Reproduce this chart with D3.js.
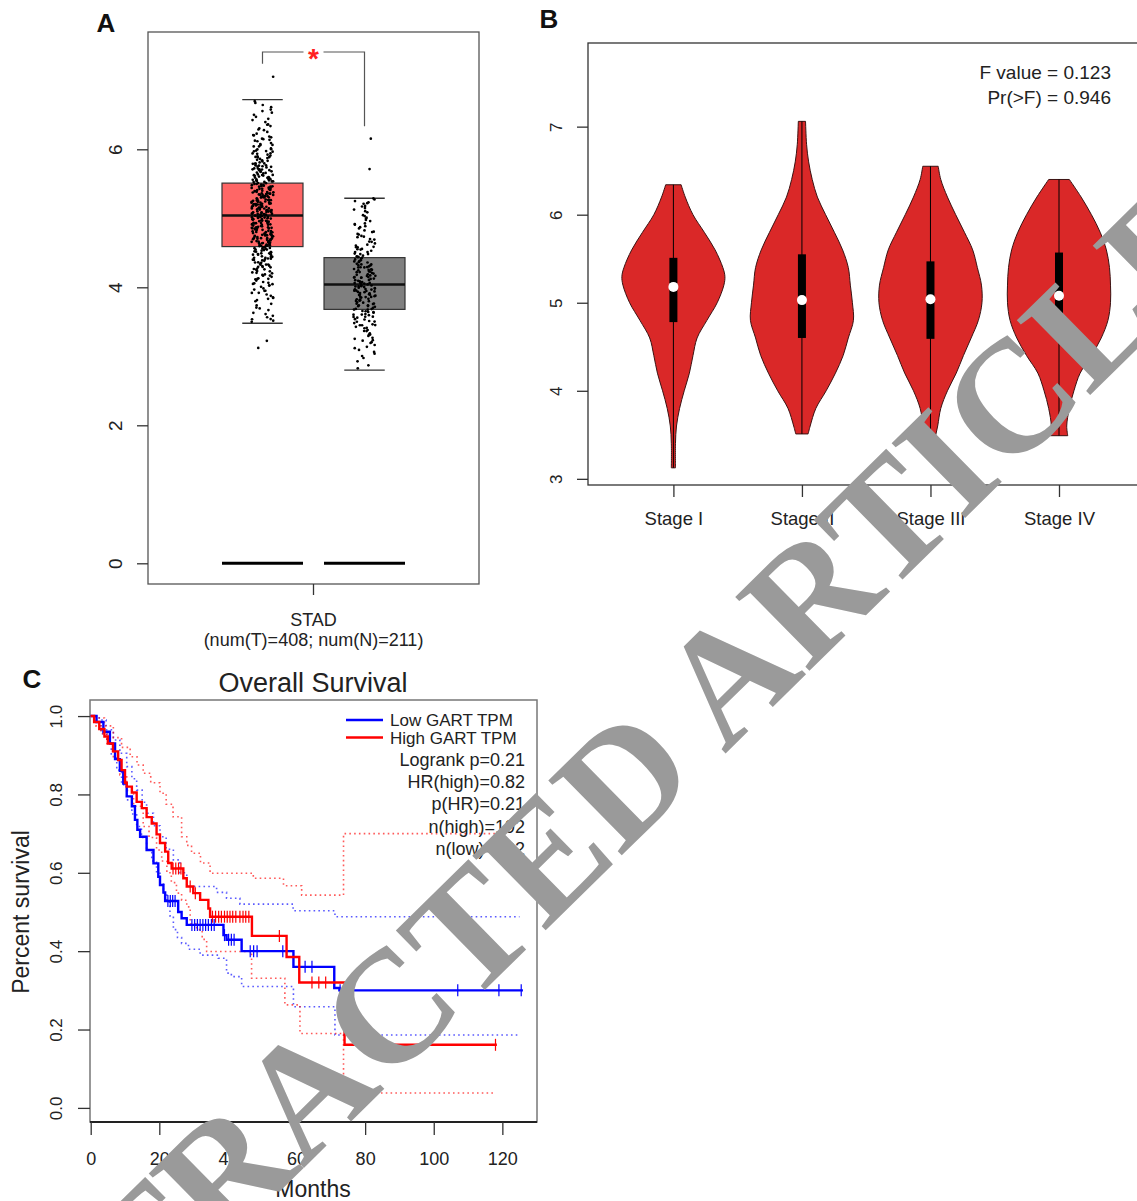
<!DOCTYPE html>
<html>
<head>
<meta charset="utf-8">
<script src="https://cdn.jsdelivr.net/npm/d3@7"></script>
<style>
  body { margin: 0; background: #fff; }
  svg { display: block; font-family: "Liberation Sans", Arial, Helvetica, sans-serif; }
</style>
</head>
<body>
<svg id="fig" width="1137" height="1201"></svg>
<script>
// ---------- A: STAD tumor vs normal ----------
const groupsA = ['Tumor', 'Normal'];
// [lower whisker, q1, median, q3, upper whisker]
const boxStatsA = [
  [3.48, 4.59, 5.04, 5.51, 6.72],
  [2.80, 3.68, 4.04, 4.43, 5.29]
];
// jittered points, counted per value bin off the picture
const tumorEdges = [3.48, 3.6, 3.8, 4.0, 4.2, 4.4, 4.6, 4.8, 5.0, 5.2, 5.4, 5.6, 5.8, 6.0, 6.2, 6.4, 6.6, 6.72];
const tumorCounts = [6, 8, 12, 18, 24, 34, 40, 44, 48, 44, 38, 30, 22, 16, 10, 7, 4];
const tumorOutliers = [7.05, 3.22, 3.12];
const normalEdges = [2.8, 3.0, 3.2, 3.4, 3.6, 3.8, 4.0, 4.2, 4.4, 4.6, 4.8, 5.0, 5.2, 5.29];
const normalCounts = [4, 8, 12, 18, 24, 30, 30, 26, 18, 13, 11, 9, 6];
const normalOutliers = [6.16, 5.71];
const zeroRowA = [0, 0];
const ticksA = [0, 2, 4, 6];

// ---------- B: stage violins ----------
const stages = ['Stage I', 'Stage II', 'Stage III', 'Stage IV'];
// [min, q1, median, q3, max]
const stageStats = [
  [3.125, 4.78, 5.18, 5.51, 6.34],
  [3.51, 4.60, 5.03, 5.55, 7.06],
  [3.22, 4.59, 5.04, 5.47, 6.55],
  [3.49, 4.65, 5.08, 5.57, 6.40]
];
const levelsI = [3.125, 3.4, 3.6, 3.8, 4.0, 4.2, 4.4, 4.6, 4.8, 5.0, 5.2, 5.3, 5.4, 5.6, 5.8, 6.0, 6.2, 6.34];
const densI = [0.04, 0.04, 0.06, 0.12, 0.21, 0.31, 0.38, 0.46, 0.65, 0.85, 0.98, 1, 0.96, 0.81, 0.6, 0.38, 0.23, 0.15];
const levelsII = [3.51, 3.6, 3.8, 4.0, 4.2, 4.4, 4.6, 4.8, 5.0, 5.2, 5.4, 5.6, 5.8, 6.0, 6.2, 6.4, 6.6, 6.8, 7.06];
const densII = [0.12, 0.16, 0.27, 0.47, 0.65, 0.8, 0.9, 1, 0.98, 0.94, 0.9, 0.79, 0.63, 0.46, 0.3, 0.2, 0.13, 0.09, 0.07];
const levelsIII = [3.22, 3.4, 3.6, 3.8, 4.0, 4.2, 4.4, 4.6, 4.8, 5.0, 5.2, 5.4, 5.6, 5.8, 6.0, 6.2, 6.4, 6.55];
const densIII = [0.04, 0.07, 0.14, 0.2, 0.33, 0.5, 0.64, 0.79, 0.93, 1, 0.99, 0.91, 0.82, 0.66, 0.49, 0.33, 0.2, 0.15];
const levelsIV = [3.49, 3.6, 3.8, 4.0, 4.2, 4.4, 4.6, 4.8, 5.0, 5.2, 5.4, 5.6, 5.8, 6.0, 6.2, 6.4];
const densIV = [0.17, 0.15, 0.2, 0.29, 0.41, 0.63, 0.82, 0.95, 1, 1, 0.98, 0.92, 0.8, 0.63, 0.43, 0.2];
const ticksB = [3, 4, 5, 6, 7];
const anovaText = ['F value = 0.123', 'Pr(>F) = 0.946'];

// ---------- C: overall survival ----------
// [month, survival after the drop]
const highSteps = [[1, 0.985], [2.5, 0.967], [4, 0.948], [5, 0.93], [6.5, 0.91], [8, 0.888], [9, 0.862], [10, 0.83],
  [10.5, 0.82], [12, 0.805], [13.4, 0.781], [14.9, 0.765], [16.3, 0.742], [17.8, 0.726], [19.2, 0.698], [20.2, 0.676],
  [21.7, 0.654], [22.6, 0.625], [23.6, 0.611], [27, 0.586], [28, 0.565], [29.9, 0.548], [31.9, 0.531], [34.3, 0.509],
  [34.8, 0.488], [47, 0.439], [57.1, 0.385], [60.8, 0.32], [74, 0.161]];
const highEnd = 118.4;
const highCensor = [24, 24.8, 25.6, 26.3, 29, 30.5, 35.5, 36.4, 37.3, 38.1, 39, 39.8, 40.6, 41.4, 42.3, 43.5,
  44.4, 45.2, 46.1, 55, 64.5, 66.5, 68.5, 118];
const lowSteps = [[1.7, 0.985], [3.7, 0.96], [5.6, 0.93], [7.1, 0.89], [8.5, 0.86], [9.5, 0.828], [10.5, 0.795],
  [12, 0.77], [12.9, 0.735], [13.6, 0.71], [14.4, 0.692], [16.3, 0.658], [18.3, 0.624], [19.7, 0.59], [20.2, 0.569],
  [21.2, 0.55], [21.7, 0.528], [25.5, 0.5], [26.5, 0.484], [28, 0.467], [38.7, 0.441], [39.6, 0.429], [44, 0.4],
  [59.1, 0.36], [71, 0.306], [72.5, 0.3]];
const lowEnd = 126;
const lowCensor = [22.5, 23.2, 23.9, 24.6, 29.5, 30.3, 31.1, 31.9, 32.7, 33.5, 34.3, 35.2, 36, 39, 40.2, 41, 41.8,
  46.5, 47.5, 48.5, 56, 62.5, 64.5, 72.7, 107, 119, 125.5];
// 95% bands, [month, value]
const highUpper = [[0, 1], [2, 0.995], [4, 0.975], [6.6, 0.945], [9, 0.92], [11.5, 0.896], [13.5, 0.875], [15.3, 0.854],
  [17.5, 0.83], [20.2, 0.803], [22, 0.775], [24, 0.743], [26.5, 0.692], [28, 0.67], [29.4, 0.65], [32, 0.625],
  [34.8, 0.599], [47.4, 0.586], [56.2, 0.567], [61.5, 0.543], [73.7, 0.7], [118, 0.7]];
const highLower = [[0, 1], [1.5, 0.975], [3, 0.955], [4.7, 0.93], [6.6, 0.89], [8.5, 0.85], [10.5, 0.81], [12.5, 0.77],
  [15.3, 0.718], [17, 0.69], [19.2, 0.658], [20.7, 0.63], [22.2, 0.6], [23.5, 0.575], [25, 0.548], [26.5, 0.53],
  [28, 0.513], [29, 0.47], [30.9, 0.455], [32.5, 0.43], [33.8, 0.399], [46.9, 0.331], [56.6, 0.263], [61, 0.19],
  [73.7, 0.038], [117.3, 0.038]];
const lowUpper = [[0, 1], [2.5, 0.99], [4.5, 0.965], [6.6, 0.939], [8.5, 0.905], [10.5, 0.871], [12, 0.84], [13.4, 0.811],
  [15, 0.78], [16.3, 0.752], [18.3, 0.72], [20.2, 0.692], [22, 0.66], [24.1, 0.633], [26, 0.6], [28, 0.565],
  [36.7, 0.55], [39.6, 0.535], [43.5, 0.52], [59, 0.503], [71.2, 0.488], [125, 0.488]];
const lowLower = [[0, 1], [1.5, 0.985], [3, 0.955], [4.7, 0.931], [6, 0.9], [7.6, 0.862], [9, 0.825], [10.5, 0.786],
  [12, 0.75], [13.4, 0.718], [14.8, 0.69], [16.3, 0.658], [17.8, 0.63], [19.2, 0.599], [20.2, 0.575], [21.2, 0.548],
  [22.2, 0.525], [23.1, 0.49], [24.1, 0.455], [25.3, 0.435], [26.5, 0.42], [28.5, 0.405], [31.9, 0.39], [37.2, 0.382],
  [39.6, 0.344], [41, 0.335], [44, 0.31], [59.1, 0.258], [71.2, 0.186], [125, 0.186]];
const ticksCx = [0, 20, 40, 60, 80, 100, 120];
const ticksCy = [0, 0.2, 0.4, 0.6, 0.8, 1.0];
const legendC = ['Low GART TPM', 'High GART TPM'];
const statsC = ['Logrank p=0.21', 'HR(high)=0.82', 'p(HR)=0.21', 'n(high)=192', 'n(low)=192'];

const {
  scaleLinear, scaleBand, scalePoint, axisLeft, axisBottom, line, area, curveStepAfter, curveCatmullRom, format
} = d3;

const svg = d3.select('#fig');
const ink = '#222';

// R style: labels on the left axis are turned 90 degrees
function rotateLeftLabels(g, offset, size) {
  g.attr('font-family', null).attr('font-size', size);
  g.select('.domain').remove();
  g.selectAll('.tick line').attr('stroke', '#333').attr('stroke-width', 1.3);
  g.selectAll('.tick text')
    .attr('x', null).attr('dy', '0.35em')
    .attr('fill', ink)
    .attr('text-anchor', 'middle')
    .attr('transform', `translate(${-offset},0) rotate(-90)`);
}

function bottomLabels(g, y, size) {
  g.attr('font-family', null).attr('font-size', size);
  g.select('.domain').remove();
  g.selectAll('.tick line').attr('stroke', '#333').attr('stroke-width', 1.3);
  g.selectAll('.tick text').attr('y', y).attr('dy', 0).attr('fill', ink);
}

function panelLetter(t, x, y) {
  svg.append('text').attr('x', x).attr('y', y).attr('text-anchor', 'middle')
    .attr('font-size', 26).attr('font-weight', 'bold').attr('fill', '#111').text(t);
}

// deterministic jitter for the dot strips (position only, not data)
const jitter = k => {
  const s = Math.sin(k * 12.9898 + 4.1414) * 43758.5453;
  return s - Math.floor(s) - 0.5;
};

// ================= panel A =================
function drawA() {
  const m = { left: 148, top: 32, right: 479, bottom: 584 };
  const y = scaleLinear().domain([-0.3, 7.7]).range([m.bottom, m.top]);
  const x = scaleBand().domain(groupsA).range([222, 405]).paddingInner(0.206);
  const fills = ['#ff6666', '#808080'];
  const g = svg.append('g');

  g.append('rect').attr('x', m.left).attr('y', m.top)
    .attr('width', m.right - m.left).attr('height', m.bottom - m.top)
    .attr('fill', 'none').attr('stroke', '#555').attr('stroke-width', 1.3);

  g.append('g').attr('transform', `translate(${m.left},0)`)
    .call(axisLeft(y).tickValues(ticksA).tickSize(11).tickPadding(0))
    .call(a => rotateLeftLabels(a, 33, 19));

  // x axis: single category tick
  const bw = x.bandwidth();
  const cx = (x('Tumor') + x('Normal') + bw) / 2;
  g.append('line').attr('x1', cx).attr('x2', cx).attr('y1', m.bottom).attr('y2', m.bottom + 11)
    .attr('stroke', '#333').attr('stroke-width', 1.3);
  g.append('text').attr('x', cx).attr('y', 626).attr('text-anchor', 'middle')
    .attr('font-size', 18).attr('fill', ink).text('STAD');
  g.append('text').attr('x', cx).attr('y', 646).attr('text-anchor', 'middle')
    .attr('font-size', 18).attr('fill', ink).text('(num(T)=408; num(N)=211)');

  boxStatsA.forEach((s, i) => {
    const x0 = x(groupsA[i]);
    g.append('rect').attr('x', x0).attr('y', y(s[3]))
      .attr('width', bw).attr('height', y(s[1]) - y(s[3]))
      .attr('fill', fills[i]).attr('stroke', '#333').attr('stroke-width', 1.2);
    g.append('line').attr('x1', x0).attr('x2', x0 + bw).attr('y1', y(s[2])).attr('y2', y(s[2]))
      .attr('stroke', '#111').attr('stroke-width', 2.6);
    // whisker caps (half the box width)
    [s[0], s[4]].forEach(v => {
      g.append('line').attr('x1', x0 + bw / 4).attr('x2', x0 + bw * 3 / 4).attr('y1', y(v)).attr('y2', y(v))
        .attr('stroke', '#333').attr('stroke-width', 1.4);
    });
  });

  // dots
  const expand = (edges, counts) => {
    const vals = [];
    counts.forEach((n, b) => {
      for (let j = 0; j < n; j++) vals.push(edges[b] + (j + 0.5) / n * (edges[b + 1] - edges[b]));
    });
    return vals;
  };
  const pts = [
    expand(tumorEdges, tumorCounts).concat(tumorOutliers),
    expand(normalEdges, normalCounts).concat(normalOutliers)
  ];
  pts.forEach((vals, i) => {
    const c = x(groupsA[i]) + bw / 2;
    g.append('g').selectAll('circle').data(vals).enter().append('circle')
      .attr('cx', (d, k) => c + jitter(k + i * 1000) * 22)
      .attr('cy', (d, k) => y(d) + jitter(k * 3 + 7 + i * 500) * 1.5)
      .attr('r', 1.35)
      .attr('fill', '#000');
  });

  // zero rows: flat boxes at 0
  zeroRowA.forEach((v, i) => {
    g.append('line').attr('x1', x(groupsA[i])).attr('x2', x(groupsA[i]) + bw)
      .attr('y1', y(v)).attr('y2', y(v)).attr('stroke', '#000').attr('stroke-width', 3);
  });

  // significance bracket
  const c0 = x(groupsA[0]) + bw / 2, c1 = x(groupsA[1]) + bw / 2;
  const top0 = Math.max(...pts[0]), top1 = Math.max(...pts[1]);
  const yb = 52;
  const br = g.append('g').attr('fill', 'none').attr('stroke', '#555').attr('stroke-width', 1.2);
  br.append('path').attr('d', `M${c0},${y(top0) - 13}V${yb}H${cx - 10}`);
  br.append('path').attr('d', `M${cx + 10},${yb}H${c1}V${y(top1) - 12}`);
  g.append('text').attr('x', cx).attr('y', yb + 16).attr('text-anchor', 'middle')
    .attr('font-size', 28).attr('font-weight', 'bold').attr('fill', '#ff2020').text('*');

  panelLetter('A', 106, 32);
}

// ================= panel B =================
function drawB() {
  const m = { left: 588, top: 43, right: 1160, bottom: 485 };
  const y = scaleLinear().domain([2.93, 7.95]).range([m.bottom, m.top]);
  const x = scalePoint().domain(stages).range([673.4, 1059]);
  const w = scaleLinear().domain([0, 1]).range([0, 51.5]);
  const levels = [levelsI, levelsII, levelsIII, levelsIV];
  const dens = [densI, densII, densIII, densIV];
  const g = svg.append('g');

  g.append('rect').attr('x', m.left).attr('y', m.top)
    .attr('width', m.right - m.left).attr('height', m.bottom - m.top)
    .attr('fill', 'none').attr('stroke', '#333').attr('stroke-width', 1.3);

  g.append('g').attr('transform', `translate(${m.left},0)`)
    .call(axisLeft(y).tickValues(ticksB).tickFormat(format('d')).tickSize(11).tickPadding(0))
    .call(a => rotateLeftLabels(a, 32, 17));

  g.append('g').attr('transform', `translate(0,${m.bottom})`)
    .call(axisBottom(x).tickSize(12))
    .call(a => bottomLabels(a, 40, 18.5));

  stages.forEach((st, i) => {
    const cx = x(st);
    const rows = levels[i].map((v, k) => ({ v, d: dens[i][k] }));
    const violin = area().curve(curveCatmullRom)
      .y(d => y(d.v))
      .x0(d => cx - w(d.d))
      .x1(d => cx + w(d.d));
    g.append('path').attr('d', violin(rows))
      .attr('fill', '#da2828').attr('stroke', '#3a1212').attr('stroke-width', 1);
    const s = stageStats[i];
    g.append('line').attr('x1', cx).attr('x2', cx).attr('y1', y(s[0])).attr('y2', y(s[4]))
      .attr('stroke', '#000').attr('stroke-width', 1);
    g.append('rect').attr('x', cx - 4).attr('width', 8)
      .attr('y', y(s[3])).attr('height', y(s[1]) - y(s[3])).attr('fill', '#000');
    g.append('circle').attr('cx', cx).attr('cy', y(s[2])).attr('r', 5).attr('fill', '#fff');
  });

  anovaText.forEach((t, i) => {
    g.append('text').attr('x', 1111).attr('y', 79 + i * 25).attr('text-anchor', 'end')
      .attr('font-size', 19).attr('fill', ink).text(t);
  });

  panelLetter('B', 549, 28);
}

// ================= panel C =================
function drawC() {
  const m = { left: 90, top: 700, right: 537, bottom: 1122 };
  const x = scaleLinear().domain([0, 130.1]).range([90.7, m.right]);
  const y = scaleLinear().domain([-0.036, 1.041]).range([m.bottom, m.top]);
  const blue = '#0000ff', red = '#ff0000';
  const g = svg.append('g');

  g.append('rect').attr('x', m.left).attr('y', m.top)
    .attr('width', m.right - m.left).attr('height', m.bottom - m.top)
    .attr('fill', 'none').attr('stroke', '#777').attr('stroke-width', 1.5);
  g.append('line').attr('x1', m.left).attr('x2', m.right).attr('y1', m.bottom).attr('y2', m.bottom)
    .attr('stroke', '#222').attr('stroke-width', 2);

  g.append('g').attr('transform', `translate(${m.left},0)`)
    .call(axisLeft(y).tickValues(ticksCy).tickFormat(format('.1f')).tickSize(12).tickPadding(0))
    .call(a => rotateLeftLabels(a, 34, 17));

  g.append('g').attr('transform', `translate(0,${m.bottom})`)
    .call(axisBottom(x).tickValues(ticksCx).tickSize(13))
    .call(a => bottomLabels(a, 43, 18));

  g.append('text').attr('x', 313).attr('y', 692).attr('text-anchor', 'middle')
    .attr('font-size', 27).attr('fill', ink).text('Overall Survival');
  g.append('text').attr('x', 313).attr('y', 1197).attr('text-anchor', 'middle')
    .attr('font-size', 23).attr('fill', ink).text('Months');
  g.append('text').attr('transform', 'translate(29,912) rotate(-90)').attr('text-anchor', 'middle')
    .attr('font-size', 23).attr('fill', ink).text('Percent survival');

  const step = line().curve(curveStepAfter).x(d => x(d[0])).y(d => y(d[1]));

  // confidence bands
  [[lowUpper, blue], [lowLower, blue], [highUpper, red], [highLower, red]].forEach(([d, c]) => {
    g.append('path').attr('d', step(d)).attr('fill', 'none')
      .attr('stroke', c).attr('stroke-opacity', 0.65).attr('stroke-width', 1.6)
      .attr('stroke-dasharray', '1.6,3.2');
  });

  const survAt = (steps, t) => {
    let s = 1;
    steps.forEach(([st, sv]) => { if (st <= t) s = sv; });
    return s;
  };

  [[lowSteps, lowEnd, lowCensor, blue], [highSteps, highEnd, highCensor, red]].forEach(([steps, end, cens, c]) => {
    const pts = [[0, 1]].concat(steps, [[end, steps[steps.length - 1][1]]]);
    g.append('path').attr('d', step(pts)).attr('fill', 'none')
      .attr('stroke', c).attr('stroke-width', 2.4);
    g.append('g').selectAll('line').data(cens).enter().append('line')
      .attr('x1', d => x(d)).attr('x2', d => x(d))
      .attr('y1', d => y(survAt(steps, d)) - 6).attr('y2', d => y(survAt(steps, d)) + 6)
      .attr('stroke', c).attr('stroke-width', 1.2);
  });

  // legend
  [blue, red].forEach((c, i) => {
    const ly = 720 + i * 17.5;
    g.append('line').attr('x1', 346).attr('x2', 383).attr('y1', ly).attr('y2', ly)
      .attr('stroke', c).attr('stroke-width', 2.5);
    g.append('text').attr('x', 390).attr('y', ly + 6).attr('font-size', 17).attr('fill', ink).text(legendC[i]);
  });
  statsC.forEach((t, i) => {
    g.append('text').attr('x', 525).attr('y', 766 + i * 22.2).attr('text-anchor', 'end')
      .attr('font-size', 18).attr('fill', ink).text(t);
  });

  panelLetter('C', 32, 688);
}

drawA();
drawB();
drawC();

// retraction watermark on top of everything
svg.append('text')
  .attr('transform', 'translate(613,864) rotate(-44.5)')
  .attr('text-anchor', 'middle')
  .attr('font-family', '"Liberation Serif", "Times New Roman", serif')
  .attr('font-weight', 'bold')
  .attr('font-size', 160)
  .attr('fill', '#9a9a9a')
  .text('RETRACTED ARTICLE');
</script>
</body>
</html>
